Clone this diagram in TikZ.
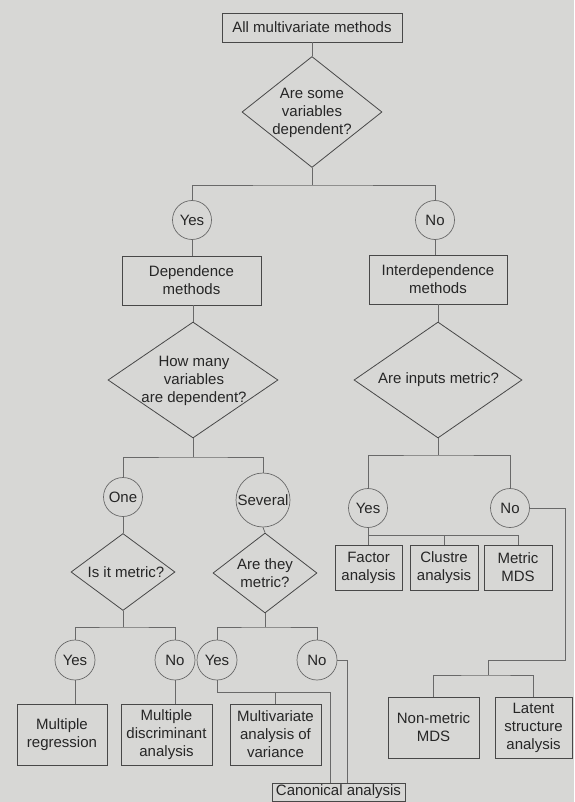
\documentclass[tikz,border=0pt]{standalone}
\usepackage{fontspec}
\setmainfont{Liberation Sans}
\usetikzlibrary{shapes.geometric,calc}
\definecolor{bg}{RGB}{215,215,213}
\definecolor{ink}{RGB}{38,38,38}
\definecolor{edge}{RGB}{72,72,72}
\definecolor{faint}{RGB}{105,105,105}
\begin{document}
\begin{tikzpicture}[x=1pt,y=-1pt,
  font=\fontsize{15}{18}\selectfont,
  box/.style={draw=edge, line width=0.8pt, rectangle, inner sep=0pt, align=center, text=ink},
  dia/.style={draw=edge, line width=0.8pt, diamond, inner sep=0pt},
  diatext/.style={align=center, text=ink, inner sep=0pt},
  ans/.style={draw=faint, circle, inner sep=0pt, minimum size=39pt, text=ink, line width=0.7pt},
  conn/.style={draw=faint, line width=0.8pt}]
\useasboundingbox (0,0) rectangle (574,802);
\fill[bg] (0,0) rectangle (574,802);

% top
\node[box, minimum width=180pt, minimum height=29pt] (top) at (312,27.5) {All multivariate methods};
\node[dia, minimum width=140pt, minimum height=111pt] (d1) at (312,112) {};
\node[diatext] (d1t) at (312,113) {Are some\\variables\\dependent?};

\node[ans] (yes1) at (192,220) {Yes};
\node[ans] (no1) at (435,220) {No};

\node[box, minimum width=139pt, minimum height=49pt] (dep) at (191.5,280.5) {Dependence\\methods};
\node[box, minimum width=138pt, minimum height=49pt] (inter) at (438,279.5) {Interdependence\\methods};

\node[dia, minimum width=170pt, minimum height=116pt] (d2) at (193,380) {};
\node[diatext] (d2t) at (194,381) {How many\\variables\\are dependent?};
\node[dia, minimum width=168pt, minimum height=116pt] (d3) at (438,380) {};
\node[diatext] (d3t) at (438.5,380) {Are inputs metric?};

\node[ans] (one) at (123,497) {One};
\node[ans, minimum size=54pt] (several) at (263,500) {Several};
\node[ans] (yes2) at (368,508) {Yes};
\node[ans] (no2) at (510,508) {No};

\node[box, minimum width=67pt, minimum height=45pt] (factor) at (368.5,567.5) {Factor\\analysis};
\node[box, minimum width=68pt, minimum height=45pt] (clustre) at (444,567.5) {Clustre\\analysis};
\node[box, minimum width=68pt, minimum height=45pt] (mmds) at (518,567.5) {Metric\\MDS};

\node[dia, minimum width=104pt, minimum height=77pt] (d4) at (123,572) {};
\node[diatext] (d4t) at (126,572) {Is it metric?};
\node[dia, minimum width=104pt, minimum height=80pt] (d5) at (265,573) {};
\node[diatext] (d5t) at (265,573) {Are they\\metric?};

\node[ans, minimum size=40pt] (yes3) at (75,660) {Yes};
\node[ans, minimum size=40pt] (no3) at (175,660) {No};
\node[ans, minimum size=40pt] (yes4) at (217,660) {Yes};
\node[ans, minimum size=40pt] (no4) at (317,660) {No};

\node[box, minimum width=90pt, minimum height=61pt] (mreg) at (62,734.5) {Multiple\\regression};
\node[box, minimum width=91pt, minimum height=61pt] (mda) at (166.5,734.5) {Multiple\\discriminant\\analysis};
\node[box, minimum width=91pt, minimum height=61pt] (manova) at (275.5,734.5) {Multivariate\\analysis of\\variance};
\node[box, minimum width=91pt, minimum height=61pt] (nmmds) at (433.5,727.5) {Non-metric\\MDS};
\node[box, minimum width=77pt, minimum height=61pt] (latent) at (533.5,727.5) {Latent\\structure\\analysis};
\node[box, minimum width=133pt, minimum height=18pt] (canon) at (338.5,792) {Canonical analysis};

% coordinates
\coordinate (b1) at (312,185);
\coordinate (b2) at (193,457);
\coordinate (b3) at (438,455);
\coordinate (b4) at (368,535);
\coordinate (b5) at (123,627);
\coordinate (b6) at (265,627);
\coordinate (b7) at (330,692);
\coordinate (b8) at (347,783);
\coordinate (cR) at (565,660);
\coordinate (c2) at (488,660);
\coordinate (c3) at (488,675);

% connectors
\draw[conn] (top.south) -- (d1.north);
\draw[conn] (d1.south) -- (b1);
\draw[conn] (yes1.north) |- (b1) -| (no1.north);
\draw[conn] (yes1.south) -- (yes1.south |- dep.north);
\draw[conn] (no1.south) -- (no1.south |- inter.north);
\draw[conn] (dep.south -| d2.north) -- (d2.north);
\draw[conn] (inter.south) -- (d3.north);

\draw[conn] (d2.south) -- (b2);
\draw[conn] (one.north) |- (b2) -| (several.north);
\draw[conn] (one.south) -- (d4.north);
\draw[conn] (several.south) -- (d5.north);

\draw[conn] (d3.south) -- (b3);
\draw[conn] (yes2.north) |- (b3) -| (no2.north);
\draw[conn] (yes2.south) -- (yes2.south |- factor.north);
\draw[conn] (b4) -| (clustre.north);
\draw[conn] (b4) -| (mmds.north);
\draw[conn] (no2.east) -| (cR) -- (c2) -- (c3);
\draw[conn] (nmmds.north) |- (c3) -| (latent.north);

\draw[conn] (d4.south) -- (b5);
\draw[conn] (yes3.north) |- (b5) -| (no3.north);
\draw[conn] (d5.south) -- (b6);
\draw[conn] (yes4.north) |- (b6) -| (no4.north);
\draw[conn] (yes3.south) -- (yes3.south |- mreg.north);
\draw[conn] (no3.south) -- (no3.south |- mda.north);
\draw[conn] (yes4.south) |- (b7) -- (b7 |- canon.north);
\draw[conn] (manova.north) -- (manova.north |- b7);
\draw[conn] (no4.east) -| (b8);
\end{tikzpicture}
\end{document}
